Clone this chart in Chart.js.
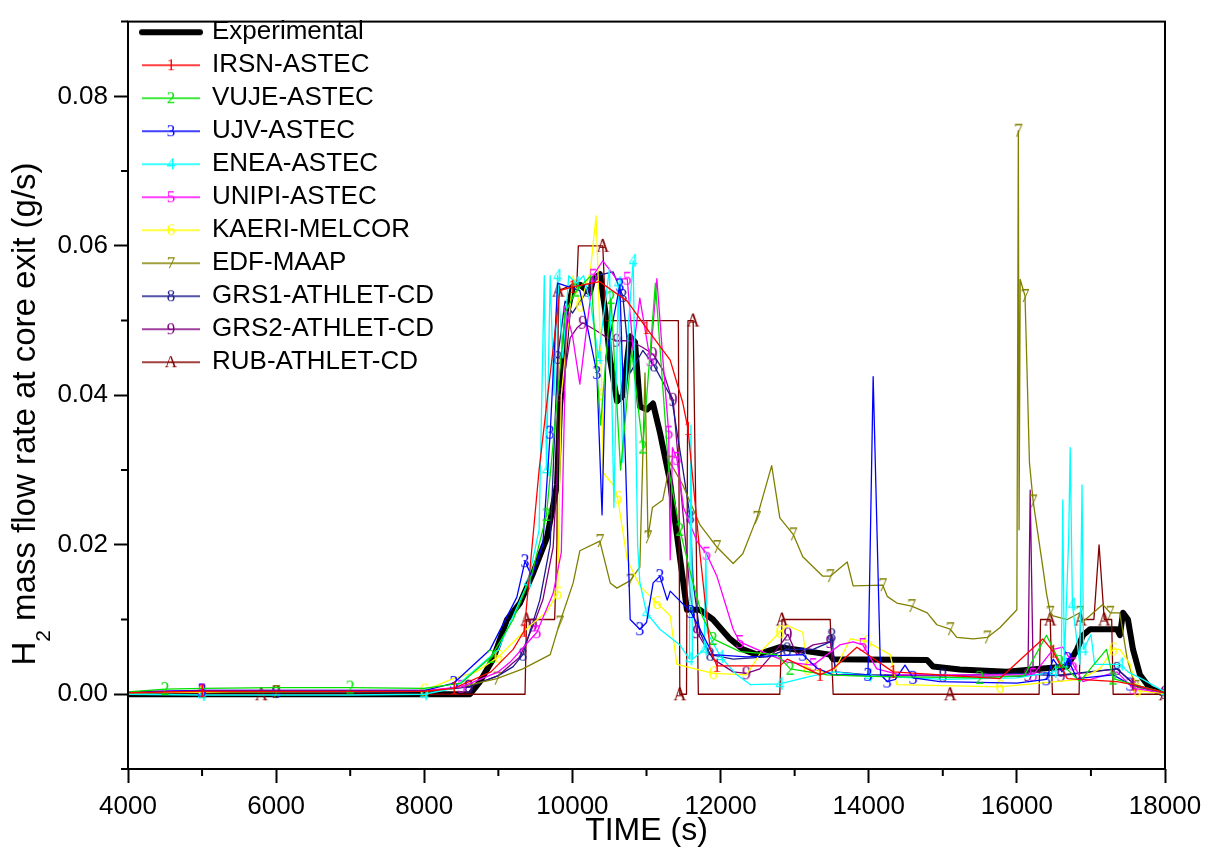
<!DOCTYPE html>
<html>
<head>
<meta charset="utf-8">
<script src="https://cdn.jsdelivr.net/npm/chart.js@4.4.1/dist/chart.umd.min.js"></script>
<style>
  html, body { margin: 0; padding: 0; background: #fff; }
</style>
</head>
<body>
<canvas id="myChart" width="1215" height="855"></canvas>
<script>
// series: [time (s), H2 flow (g/s)]
const experimental = [[4000,0],[8617,0],[8752,0.0017],[8928,0.0047],[9117,0.0100],[9292,0.0122],[9468,0.0162],[9657,0.0210],[9792,0.0280],[9832,0.0385],[9940,0.0515],[10008,0.0546],[10102,0.0548],[10237,0.0537],[10278,0.0555],[10372,0.0562],[10440,0.0515],[10507,0.0449],[10602,0.0392],[10683,0.0400],[10777,0.0479],[10845,0.0471],[10912,0.0385],[11006,0.0381],[11088,0.0389],[11182,0.0350],[11317,0.0285],[11357,0.0253],[11546,0.0113],[11722,0.0113],[11897,0.0100],[12127,0.0074],[12303,0.0060],[12492,0.0053],[12802,0.0063],[13477,0.0053],[13518,0.0047],[14787,0.0046],[14868,0.0037],[15232,0.0033],[15867,0.0030],[16312,0.0034],[16677,0.0037],[16812,0.0060],[16893,0.0079],[16987,0.0087],[17352,0.0087],[17392,0.0079],[17433,0.0109],[17500,0.0100],[17568,0.0060],[17662,0.0026],[17797,0.0008],[17973,0.0001]];

const irsn = [[4000,0.0002],[5000,0.0004],[6500,0.0004],[8000,0.0004],[8400,0.0008],[8900,0.003],[9200,0.006],[9350,0.0085],[9550,0.03],[9830,0.054],[10000,0.0545],[10370,0.0552],[10740,0.0526],[11000,0.049],[11320,0.0447],[11490,0.039],[11560,0.0355],[11720,0.019],[11860,0.006],[11950,0.0038],[12800,0.0038],[12900,0.0047],[13340,0.0026],[13520,0.0034],[13840,0.0063],[14330,0.003],[15770,0.0021],[16350,0.0074],[16490,0.0057],[16680,0.0021],[17350,0.0017],[17570,0.0013],[18000,0.0002]];

const vuje = [[4000,0.0003],[4500,0.0007],[5000,0.0008],[6000,0.0009],[7000,0.0009],[8000,0.0008],[8500,0.0015],[8900,0.005],[9200,0.010],[9450,0.016],[9650,0.024],[9800,0.040],[9900,0.051],[10050,0.054],[10250,0.056],[10380,0.036],[10520,0.053],[10650,0.030],[10800,0.046],[10950,0.033],[11120,0.055],[11300,0.030],[11450,0.022],[11600,0.016],[11750,0.0105],[11900,0.0074],[12260,0.0057],[12760,0.0053],[12940,0.0034],[13440,0.0026],[14000,0.0024],[15500,0.0022],[16100,0.0025],[16400,0.0079],[16580,0.0043],[16850,0.0017],[17210,0.006],[17300,0.0021],[17700,0.001],[18000,0.0002]];

const ujv = [[4000,0.0003],[5000,0.0005],[6500,0.0005],[8000,0.0005],[8400,0.0015],[8890,0.006],[9250,0.013],[9360,0.0178],[9450,0.0158],[9600,0.020],[9700,0.035],[9800,0.055],[10100,0.054],[10330,0.043],[10400,0.024],[10450,0.045],[10640,0.0547],[10720,0.030],[10780,0.010],[10910,0.0087],[11000,0.0096],[11090,0.0149],[11180,0.0158],[11280,0.0126],[11320,0.0138],[11600,0.011],[11900,0.0053],[12350,0.005],[13110,0.0053],[13300,0.0035],[13520,0.0026],[13990,0.0026],[14060,0.0425],[14160,0.0026],[14250,0.0017],[14360,0.002],[14490,0.0039],[14600,0.0022],[14960,0.0017],[16000,0.0015],[16400,0.002],[16490,0.0047],[16610,0.003],[16690,0.0047],[16810,0.0021],[17300,0.0026],[17530,0.0013],[18000,0.0002]];

const enea = [[4000,0],[5000,-0.0001],[6000,-0.0001],[7000,-0.0001],[8000,0],[8400,0.0008],[9000,0.006],[9400,0.015],[9550,0.022],[9620,0.056],[9650,0.030],[9700,0.056],[9750,0.040],[9800,0.056],[9870,0.045],[9950,0.056],[10050,0.055],[10150,0.056],[10250,0.052],[10350,0.045],[10500,0.057],[10560,0.025],[10620,0.055],[10680,0.031],[10760,0.050],[10820,0.058],[10880,0.020],[10910,0.015],[11000,0.0109],[11180,0.0087],[11450,0.0066],[11580,0.0047],[11600,0.036],[11620,0.0047],[11780,0.006],[11800,0.019],[11820,0.0083],[12000,0.005],[12220,0.0026],[12400,0.0013],[12800,0.0014],[13210,0.0024],[13520,0.003],[14000,0.0025],[15000,0.002],[16000,0.0022],[16500,0.003],[16600,0.004],[16620,0.026],[16640,0.004],[16700,0.021],[16720,0.033],[16750,0.012],[16850,0.004],[16880,0.028],[16900,0.006],[17000,0.008],[17050,0.004],[17400,0.004],[17500,0.003],[17700,0.002],[18000,0.0003]];

const unipi = [[4000,0.0003],[5000,0.0005],[6500,0.0005],[8000,0.0005],[8500,0.001],[9000,0.003],[9160,0.0043],[9520,0.0083],[9740,0.0135],[9850,0.019],[9920,0.051],[10000,0.048],[10100,0.0415],[10280,0.056],[10410,0.058],[10600,0.0555],[10740,0.0556],[10820,0.046],[10910,0.053],[11050,0.0447],[11140,0.0556],[11220,0.045],[11300,0.035],[11320,0.018],[11350,0.033],[11410,0.0315],[11500,0.025],[11680,0.0205],[11810,0.0188],[11950,0.0158],[12170,0.0087],[12260,0.007],[12490,0.006],[12900,0.0043],[13250,0.0039],[13610,0.0066],[13790,0.007],[13920,0.0066],[14110,0.0034],[14420,0.0026],[16220,0.0026],[16490,0.006],[16620,0.0063],[16760,0.004],[16890,0.0017],[17350,0.003],[17570,0.0008],[18000,0.0002]];

const kaeri = [[4000,0.0002],[5000,0.0003],[5800,0.0005],[7000,0.0004],[8000,0.0005],[8390,0.0021],[8700,0.003],[9000,0.005],[9430,0.0092],[9650,0.011],[9800,0.0135],[9850,0.04],[10010,0.056],[10100,0.052],[10240,0.0565],[10320,0.064],[10400,0.040],[10410,0.0297],[10550,0.028],[10610,0.0263],[10740,0.018],[10910,0.0145],[11140,0.0122],[11320,0.0105],[11410,0.004],[11900,0.0028],[12350,0.0026],[12570,0.006],[12800,0.0083],[12900,0.0092],[13110,0.0083],[13170,0.0034],[13520,0.0028],[13750,0.0074],[13980,0.007],[14290,0.0053],[14380,0.0013],[15770,0.001],[16850,0.002],[17120,0.0034],[17300,0.006],[17390,0.006],[17530,0.004],[17620,0.0005],[18000,0.0001]];

const edf = [[4000,0.0002],[6000,0.0003],[8000,0.0004],[8500,0.001],[8980,0.0021],[9330,0.0034],[9700,0.0053],[9830,0.0096],[10010,0.0149],[10100,0.0192],[10370,0.0205],[10510,0.0149],[10600,0.0142],[10780,0.0152],[10910,0.017],[10980,0.043],[11020,0.021],[11080,0.025],[11220,0.026],[11320,0.031],[11490,0.028],[11720,0.0227],[11950,0.0197],[12170,0.0175],[12300,0.0188],[12490,0.0236],[12690,0.0306],[12800,0.0236],[12980,0.0214],[13110,0.0184],[13380,0.0158],[13480,0.0158],[13710,0.0177],[13790,0.0145],[14190,0.0146],[14250,0.0131],[14380,0.0122],[14580,0.0118],[14790,0.0109],[14920,0.0093],[15100,0.0087],[15190,0.0076],[15410,0.0074],[15600,0.0076],[15770,0.0089],[16000,0.0113],[16020,0.0754],[16030,0.022],[16045,0.0555],[16110,0.0533],[16130,0.046],[16170,0.031],[16220,0.0258],[16350,0.017],[16400,0.0135],[16450,0.0109],[16490,0.0105],[16680,0.010],[16850,0.0109],[16880,0.0096],[17160,0.012],[17260,0.0109],[17390,0.0109],[17490,0.0047],[17600,0.001],[18000,0.0001]];

const grs1 = [[4000,0.0002],[6000,0.0003],[6700,0.0003],[8000,0.0004],[8600,0.001],[9000,0.0025],[9200,0.0037],[9330,0.0053],[9560,0.0126],[9700,0.020],[9800,0.045],[9900,0.0526],[10000,0.051],[10200,0.054],[10330,0.056],[10550,0.0565],[10680,0.0533],[10780,0.043],[10950,0.046],[11100,0.044],[11340,0.0396],[11490,0.0302],[11590,0.0237],[11630,0.0149],[11720,0.0083],[11860,0.0053],[12170,0.0047],[12630,0.005],[12900,0.006],[13250,0.006],[13480,0.007],[13500,0.0079],[13550,0.003],[14000,0.0026],[15000,0.0025],[16000,0.0028],[16500,0.0025],[17350,0.0034],[17600,0.0012],[18000,0.0002]];

const grs2 = [[4000,0.0002],[6000,0.0003],[6800,0.0003],[8000,0.0004],[8600,0.001],[9000,0.0025],[9290,0.005],[9470,0.0092],[9600,0.0126],[9740,0.0197],[9850,0.040],[9970,0.0477],[10060,0.049],[10140,0.0497],[10330,0.0486],[10470,0.0477],[10600,0.0473],[10780,0.0473],[10950,0.0464],[11090,0.0455],[11220,0.0434],[11320,0.0402],[11360,0.0394],[11450,0.0289],[11590,0.0135],[11680,0.0083],[11900,0.0047],[12170,0.003],[12350,0.0028],[12530,0.0034],[12760,0.006],[12910,0.008],[13030,0.0053],[13250,0.0066],[13480,0.007],[13570,0.0026],[16100,0.0024],[16150,0.0026],[16180,0.0273],[16220,0.003],[16600,0.0025],[17350,0.0034],[17600,0.0012],[18000,0.0002]];

const rub = [[4000,0],[5800,0],[7600,0],[9360,0],[9380,0.01],[9760,0.01],[9790,0.02],[9810,0.054],[10060,0.055],[10080,0.06],[10410,0.06],[10450,0.05],[11430,0.05],[11450,0],[11540,0],[11560,0.05],[11630,0.05],[11700,0],[12800,0],[12830,0.01],[13480,0.01],[13520,0],[15100,0],[16300,0],[16320,0.01],[16450,0.01],[16480,0],[16840,0],[16860,0.01],[17040,0.01],[17110,0.02],[17180,0.01],[17280,0.01],[17300,0],[18000,0]];

const series = [experimental, irsn, vuje, ujv, enea, unipi, kaeri, edf, grs1, grs2, rub];
const nombres = ["Experimental", "IRSN-ASTEC", "VUJE-ASTEC", "UJV-ASTEC", "ENEA-ASTEC", "UNIPI-ASTEC",
  "KAERI-MELCOR", "EDF-MAAP", "GRS1-ATHLET-CD", "GRS2-ATHLET-CD", "RUB-ATHLET-CD"];
const marcas = ["", "1", "2", "3", "4", "5", "6", "7", "8", "9", "A"];
const colores = ["#000000", "#ff0000", "#00e000", "#0000ff", "#00ffff", "#ff00ff",
  "#ffff00", "#808000", "#1a1a8c", "#800080", "#800000"];

const xTicks = [4000, 6000, 8000, 10000, 12000, 14000, 16000, 18000];
const yTicks = [0.00, 0.02, 0.04, 0.06, 0.08];

const fuente = "'Liberation Sans', Arial, sans-serif";

// small canvas with the series number, used as point style
function marcaImg(ch, color) {
  const c = document.createElement("canvas");
  c.width = 16; c.height = 20;
  const g = c.getContext("2d");
  g.font = "18px 'Liberation Serif', serif";
  g.fillStyle = color;
  g.textAlign = "center";
  g.textBaseline = "middle";
  g.fillText(ch, 8, 11);
  return c;
}

// legend sample: short line with the number in the middle
function leyendaImg(ch, color, ancho) {
  const c = document.createElement("canvas");
  c.width = 72; c.height = 22;
  const g = c.getContext("2d");
  g.strokeStyle = color;
  g.lineWidth = ancho;
  g.lineCap = ancho > 2 ? "round" : "butt";
  g.beginPath();
  g.moveTo(11, 11);
  g.lineTo(69, 11);
  g.stroke();
  if (ch) {
    g.font = "17px 'Liberation Serif', serif";
    g.fillStyle = color;
    g.textAlign = "center";
    g.textBaseline = "middle";
    g.fillText(ch, 40, 12);
  }
  return c;
}

const imgsLeyenda = nombres.map((n, i) => leyendaImg(marcas[i], colores[i], i === 0 ? 6 : 1.3));

const datasets = series.map((s, i) => ({
  label: nombres[i],
  data: s.map(p => ({ x: p[0], y: p[1] })),
  borderColor: colores[i],
  backgroundColor: colores[i],
  borderWidth: i === 0 ? 6 : 1.3,
  borderJoinStyle: "round",
  tension: 0,
  order: i === 0 ? 1 : 0,
  pointStyle: i === 0 ? false : marcaImg(marcas[i], colores[i]),
  pointRadius: ctx => (i > 0 && ctx.dataIndex % 3 === 1 ? 6 : 0),
  pointHoverRadius: 0,
}));

// frame, minor ticks and the y title with subscript
const marcoPlugin = {
  id: "marco",
  afterDraw(chart) {
    const { ctx, chartArea: a, scales } = chart;
    const x = scales.x, y = scales.y;
    ctx.save();
    ctx.strokeStyle = "#000";
    ctx.lineWidth = 2;
    ctx.strokeRect(a.left, a.top, a.right - a.left, a.bottom - a.top);
    ctx.beginPath();
    for (let v = 5000; v < 18000; v += 2000) {
      const px = x.getPixelForValue(v);
      ctx.moveTo(px, a.bottom);
      ctx.lineTo(px, a.bottom + 7);
    }
    for (let k = 0; k < 6; k++) {
      const py = y.getPixelForValue(-0.01 + k * 0.02);
      ctx.moveTo(a.left, py);
      ctx.lineTo(a.left - 7, py);
    }
    ctx.stroke();

    const f1 = "33px " + fuente, f2 = "21px " + fuente;
    const resto = " mass flow rate at core exit (g/s)";
    ctx.font = f1;
    const wH = ctx.measureText("H").width, wR = ctx.measureText(resto).width;
    ctx.font = f2;
    const w2 = ctx.measureText("2").width;
    ctx.translate(26, 414);
    ctx.rotate(-Math.PI / 2);
    ctx.fillStyle = "#000";
    ctx.textBaseline = "middle";
    ctx.textAlign = "left";
    let cx = -(wH + w2 + wR) / 2;
    ctx.font = f1; ctx.fillText("H", cx, 0); cx += wH;
    ctx.font = f2; ctx.fillText("2", cx, 18); cx += w2;
    ctx.font = f1; ctx.fillText(resto, cx, 0);
    ctx.restore();
  }
};

new Chart(document.getElementById("myChart"), {
  type: "line",
  data: { datasets },
  plugins: [marcoPlugin],
  options: {
    responsive: false,
    animation: false,
    events: [],
    layout: { padding: { top: 8, right: 50, left: 0, bottom: 0 } },
    plugins: {
      tooltip: { enabled: false },
      legend: {
        position: "chartArea",
        align: "start",
        title: { display: true, text: "", font: { size: 1 }, padding: { top: 0, bottom: 11 } },
        labels: {
          usePointStyle: true,
          pointStyleWidth: 64,
          padding: 7,
          color: "#000",
          font: { size: 26, family: fuente },
          generateLabels: chart => chart.data.datasets.map((ds, i) => ({
            text: ds.label,
            fontColor: "#000",
            pointStyle: imgsLeyenda[i],
            fillStyle: "transparent",
            strokeStyle: "transparent",
            lineWidth: 0,
            datasetIndex: i,
            hidden: false,
          })),
        },
      },
    },
    scales: {
      x: {
        type: "linear",
        min: 4000,
        max: 18000,
        afterFit: s => { s.height = 86; },
        afterBuildTicks: s => { s.ticks = xTicks.map(v => ({ value: v })); },
        ticks: { color: "#000", font: { size: 26, family: fuente }, padding: 8, maxRotation: 0, callback: v => String(v) },
        grid: { drawOnChartArea: false, tickLength: 14, tickWidth: 2, tickColor: "#000" },
        border: { display: false },
        title: { display: true, text: "TIME (s)", color: "#000", font: { size: 32, family: fuente }, padding: { top: 0, bottom: 5 } },
      },
      y: {
        type: "linear",
        min: -0.01,
        max: 0.09,
        afterFit: s => { s.width = 128; },
        afterBuildTicks: s => { s.ticks = yTicks.map(v => ({ value: v })); },
        ticks: { color: "#000", font: { size: 26, family: fuente }, padding: 6, callback: v => v.toFixed(2) },
        grid: { drawOnChartArea: false, tickLength: 14, tickWidth: 2, tickColor: "#000" },
        border: { display: false },
      },
    },
  },
});
</script>
</body>
</html>
